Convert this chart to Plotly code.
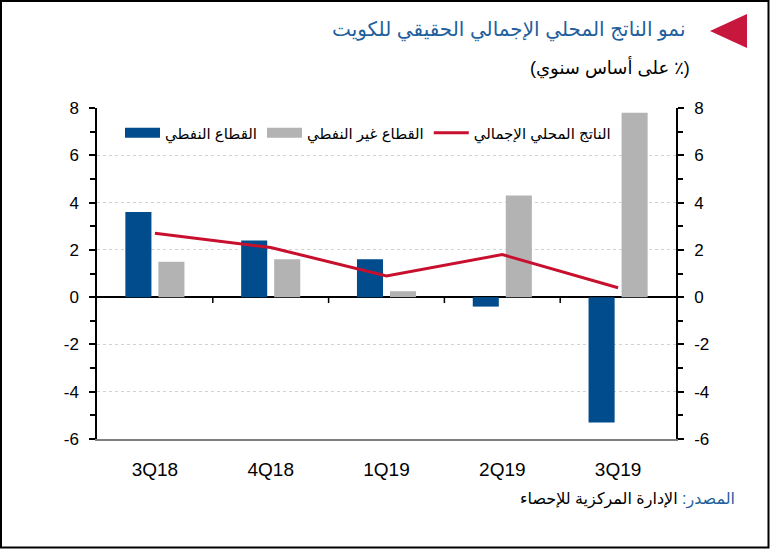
import plotly.graph_objects as go

# ---------------- data ----------------
categories = ["3Q18", "4Q18", "1Q19", "2Q19", "3Q19"]
oil = [3.6, 2.4, 1.6, -0.4, -5.3]
non_oil = [1.5, 1.6, 0.25, 4.3, 7.8]
gdp = [2.7, 2.1, 0.9, 1.8, 0.4]
y_ticks = [-6, -4, -2, 0, 2, 4, 6, 8]
y_tick_labels = ["-6", "-4", "-2", "0", "2", "4", "6", "8"]

name_oil = "القطاع النفطي"
name_non_oil = "القطاع غير النفطي"
name_gdp = "الناتج المحلي الإجمالي"
title_text = "نمو الناتج المحلي الإجمالي الحقيقي للكويت"
subtitle_text = "\u202b(٪ على أساس سنوي)\u202c"
source_label = "\u202bالمصدر:\u202c"
source_text = "الإدارة المركزية للإحصاء"

# ---------------- style ----------------
BLUE = "#004C8C"
GRAY = "#B3B3B3"
RED = "#C8102E"
TITLE_BLUE = "#1F5F9E"
FONT = "Arial, Liberation Sans, DejaVu Sans, sans-serif"

W, H = 770, 549
L, R, T, B = 97, 94, 108, 110
PW, PH = W - L - R, H - T - B


def px(x):
    return (x - L) / PW


def py(y):
    return (H - B - y) / PH


fig = go.Figure()

fig.add_trace(go.Bar(x=categories, y=oil, marker=dict(color=BLUE, line=dict(width=0)),
                     name=name_oil, showlegend=False))
fig.add_trace(go.Bar(x=categories, y=non_oil, marker=dict(color=GRAY, line=dict(width=0)),
                     name=name_non_oil, showlegend=False))
# legend proxies (wide rectangles like the original)
fig.add_trace(go.Scatter(x=[None], y=[None], mode="lines", line=dict(color=BLUE, width=10),
                         name=name_oil))
fig.add_trace(go.Scatter(x=[None], y=[None], mode="lines", line=dict(color=GRAY, width=10),
                         name=name_non_oil))
fig.add_trace(go.Scatter(x=categories, y=gdp, mode="lines", line=dict(color=RED, width=3),
                         name=name_gdp, yaxis="y2"))

shapes = []
# category boundary ticks on the zero line
for i in range(1, len(categories)):
    shapes.append(dict(type="line", xref="x", yref="y", x0=i - 0.5, x1=i - 0.5, y0=0, y1=-0.25,
                       line=dict(color="black", width=1.5)))
# red triangle marker near title
shapes.append(dict(type="path", xref="paper", yref="paper",
                   path=f"M {px(710)},{py(31)} L {px(747)},{py(14)} L {px(747)},{py(48)} Z",
                   fillcolor="#C8173D", line=dict(width=0)))
# outer frame
shapes.append(dict(type="rect", xref="paper", yref="paper",
                   x0=px(1), x1=px(768.5), y0=py(547.5), y1=py(1),
                   line=dict(color="black", width=2)))

annotations = [
    dict(text=title_text, x=px(687), y=py(30), xref="paper", yref="paper",
         xanchor="right", yanchor="middle", showarrow=False,
         font=dict(size=20, color=TITLE_BLUE, family=FONT)),
    dict(text=subtitle_text, x=px(692), y=py(68), xref="paper", yref="paper",
         xanchor="right", yanchor="middle", showarrow=False,
         font=dict(size=18, color="black", family=FONT)),
    dict(text=source_label, x=px(737), y=py(500), xref="paper", yref="paper",
         xanchor="right", yanchor="middle", showarrow=False,
         font=dict(size=16, color=TITLE_BLUE, family=FONT)),
    dict(text=source_text, x=px(680), y=py(500), xref="paper", yref="paper",
         xanchor="right", yanchor="middle", showarrow=False,
         font=dict(size=16, color="black", family=FONT)),
]

yaxis_common = dict(
    range=[-6, 8], tickvals=y_ticks, ticktext=y_tick_labels, ticks="outside", ticklen=6,
    tickwidth=1.5, tickcolor="black", showline=True, linecolor="black", linewidth=1.5,
    tickfont=dict(size=17, color="black", family=FONT),
    minor=dict(dtick=1, tick0=-6, ticks="outside", ticklen=5, tickwidth=1.5, tickcolor="black",
               showgrid=False),
)

fig.update_layout(
    width=W, height=H,
    margin=dict(l=L, r=R, t=T, b=B),
    paper_bgcolor="white", plot_bgcolor="white",
    font=dict(family=FONT, color="black"),
    barmode="group", bargap=0.43, bargroupgap=0.21,
    xaxis=dict(type="category", range=[-0.5, 4.5], showline=True, linecolor="#7F7F7F",
               linewidth=2, ticks="", showgrid=False, zeroline=False,
               tickfont=dict(size=19, color="black", family=FONT), ticklabelstandoff=12),
    yaxis=dict(**yaxis_common, showgrid=True, gridcolor="#D2D2D2", griddash="dot", gridwidth=1,
               zeroline=True, zerolinecolor="black", zerolinewidth=1.5, ticklabelstandoff=7),
    yaxis2=dict(**yaxis_common, overlaying="y", side="right", showgrid=False, zeroline=False,
                ticklabelstandoff=7),
    legend=dict(orientation="h", x=px(120), xanchor="left", y=py(133), yanchor="middle",
                bgcolor="rgba(0,0,0,0)", font=dict(size=15, color="black", family=FONT),
                itemwidth=35, traceorder="normal"),
    shapes=shapes,
    annotations=annotations,
    showlegend=True,
)

fig.write_html("out.html")
